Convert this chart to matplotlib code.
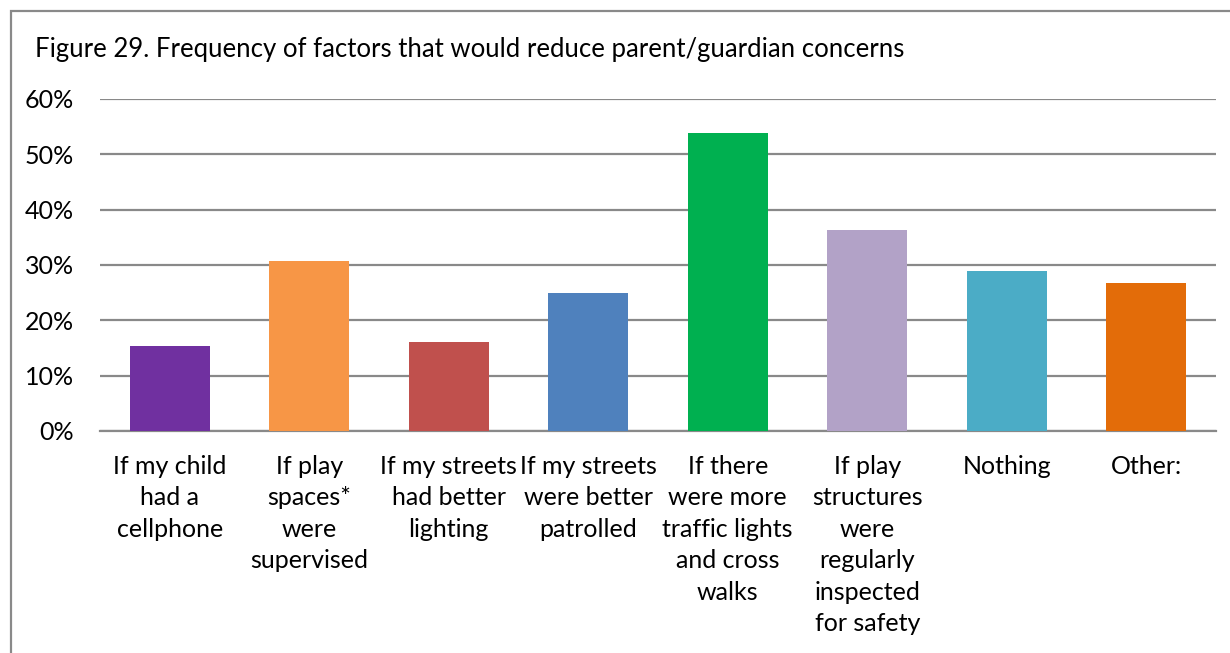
import numpy as np
import matplotlib
matplotlib.use("Agg")
import matplotlib.pyplot as plt
from matplotlib.patches import Rectangle
from matplotlib.ticker import PercentFormatter

plt.rcParams["font.family"] = ["Lato", "DejaVu Sans"]

categories = ["If my child\nhad a\ncellphone",
              "If play\nspaces*\nwere\nsupervised",
              "If my streets\nhad better\nlighting",
              "If my streets\nwere better\npatrolled",
              "If there\nwere more\ntraffic lights\nand cross\nwalks",
              "If play\nstructures\nwere\nregularly\ninspected\nfor safety",
              "Nothing",
              "Other:"]
values = [0.153, 0.308, 0.160, 0.250, 0.539, 0.364, 0.289, 0.268]
colors = ["#7030A0", "#F79646", "#C0504D", "#4F81BD", "#00B050",
          "#B2A2C7", "#4BACC6", "#E36C09"]
title = "Figure 29. Frequency of factors that would reduce parent/guardian concerns"

W, H = 1230, 653
fig = plt.figure(figsize=(W / 100, H / 100), dpi=100)
ax = fig.add_axes([100 / W, 1 - 431 / H, 1116 / W, 332 / H])

x = np.arange(len(values))
ax.bar(x, values, width=0.573, color=colors, zorder=3)
ax.set_xlim(-0.5, len(values) - 0.5)
ax.set_ylim(0, 0.6)
ax.set_yticks(np.arange(0, 0.61, 0.1))
ax.yaxis.set_major_formatter(PercentFormatter(1.0, decimals=0))
ax.set_xticks(x)
ax.set_xticklabels(categories, fontsize=18, linespacing=1.45, va="top")
ax.tick_params(axis="y", labelsize=18, length=0, pad=19)
ax.tick_params(axis="x", length=0, pad=17)
ax.grid(axis="y", color="#898989", lw=1.6, zorder=0)
for s in ["top", "right", "left"]:
    ax.spines[s].set_visible(False)
ax.spines["bottom"].set_color("#898989")
ax.spines["bottom"].set_linewidth(1.6)

fig.text(35 / W, 1 - 50 / H, title, fontsize=18.5, va="center", ha="left")
fig.patches.append(Rectangle((11 / W, -0.1), 1.2, 1 - 11 / H + 0.1,
                             transform=fig.transFigure, fill=False,
                             edgecolor="#898989", lw=1.6))

fig.savefig("out.png", dpi=100)
